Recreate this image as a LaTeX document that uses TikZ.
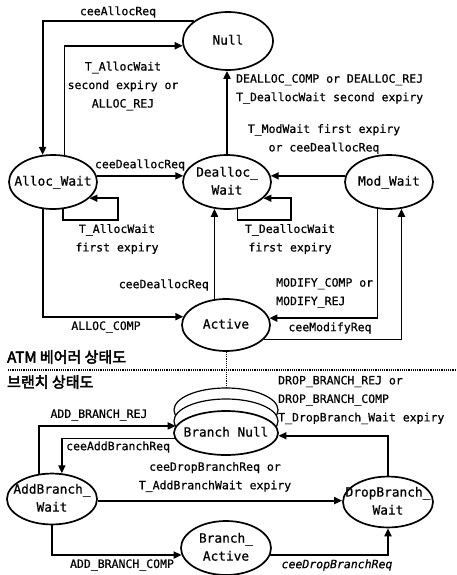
\documentclass[tikz,border=0pt]{standalone}
\usepackage{fontspec}
\setmainfont{DejaVu Sans Mono}[FakeBold=0.6]
\newfontfamily\krfont[FakeBold=3]{Noto Sans CJK KR}
\usetikzlibrary{arrows.meta,shapes.geometric}
\newcommand\ctr[1]{\makebox[0pt]{\begin{tabular}{@{}c@{}}#1\end{tabular}}}
\begin{document}
\begin{tikzpicture}[x=1pt,y=-1pt,
  state/.style={ellipse, draw, line width=1.7pt, inner sep=0pt, fill=white,
    font=\fontsize{12.8}{18}\selectfont},
  lbl/.style={font=\fontsize{11.5}{18.5}\selectfont, inner sep=0pt},
  kr/.style={font=\krfont\fontsize{15}{16}\selectfont, inner sep=0pt, anchor=west},
  arr/.style={line width=1.8pt, -{Triangle[length=8pt,width=7pt]}},
  sep/.style={line width=1.2pt, densely dotted}]
\fill[white] (0,0) rectangle (457,575);
\useasboundingbox (0,0) rectangle (457,575);

% states
\node[state, minimum width=90pt, minimum height=58pt] (null) at (228,41) {\ctr{Null}};
\node[state, minimum width=88pt, minimum height=54pt] (alloc) at (53,182) {\ctr{Alloc\_Wait}};
\node[state, minimum width=88pt, minimum height=54pt] (dealloc) at (227,182) {\ctr{Dealloc\_\\Wait}};
\node[state, minimum width=88pt, minimum height=54pt] (mod) at (389,182) {\ctr{Mod\_Wait}};
\node[state, minimum width=88pt, minimum height=52pt] (active) at (226,325) {\ctr{Active}};
\node[state, line width=1.2pt, minimum width=104pt, minimum height=44pt] (bnullb) at (226,410) {};
\node[state, line width=1.2pt, minimum width=104pt, minimum height=44pt] (bnullm) at (226,421) {};
\node[state, minimum width=104pt, minimum height=44pt] (bnull) at (226,433) {\ctr{Branch Null}};
\node[state, minimum width=90pt, minimum height=48pt] (addb) at (52,499) {\ctr{AddBranch\_\\Wait}};
\node[state, minimum width=90pt, minimum height=50pt] (dropb) at (388,502) {\ctr{DropBranch\_\\Wait}};
\node[state, minimum width=90pt, minimum height=54pt] (bactive) at (226,548) {\ctr{Branch\_\\Active}};

% separator
\draw[sep] (8,370) -- (457,370);
\draw[sep, line width=0.9pt] (active.south) -- (bnullb.north);
\node[kr] (kr1) at (7,357) {ATM 베어러 상태도};
\node[kr] (kr2) at (7,382) {브랜치 상태도};

% ATM bearer connectors
\draw[arr] (null.150) -| (alloc.111);
\node[lbl] (l1) at (118,12) {ceeAllocReq};
\draw[arr] (alloc.67) |- (null.186);
\node[lbl, align=center] (l2) at (123,86) {T\_AllocWait\\second expiry or\\ALLOC\_REJ};
\draw[arr] (dealloc.north) -- (dealloc.north |- null.south);
\node[lbl, align=left, anchor=west] (l3) at (236,89) {DEALLOC\_COMP or DEALLOC\_REJ\\T\_DeallocWait second expiry};
\draw[arr] (mod.172) -- (dealloc.8);
\node[lbl, align=center] (l4) at (324,139) {T\_ModWait first expiry\\or ceeDeallocReq};
\draw[arr] (alloc.8) -- (dealloc.172);
\node[lbl] (l5) at (140,165) {ceeDeallocReq};
\draw[arr] (alloc.-69) |- (118,220) |- (alloc.-24);
\node[lbl, align=center] (l6) at (117,239) {T\_AllocWait\\first expiry};
\draw[arr] (dealloc.-69) |- (291,220) |- (dealloc.-24);
\node[lbl, align=center] (l7) at (290,239) {T\_DeallocWait\\first expiry};
\draw[arr] (active.114) -- (active.114 |- dealloc.245);
\node[lbl, anchor=east] (l8) at (209,285) {ceeDeallocReq};
\draw[arr] (alloc.249) |- (active.169);
\node[lbl] (l9) at (106,327) {ALLOC\_COMP};
\draw[arr] (mod.247) |- (active.9);
\node[lbl, align=left, anchor=west] (l10) at (276,293) {MODIFY\_COMP or\\MODIFY\_REJ};
\draw[arr] (active.-21) -| (mod.-65);
\node[lbl] (l11) at (330,328) {ceeModifyReq};

% branch connectors
\draw[arr] (addb.117) |- (bnull.172);
\node[lbl] (l12) at (99,415) {ADD\_BRANCH\_REJ};
\draw[arr] (bnull.186) -| (addb.69);
\node[lbl, anchor=west] (l13) at (66,447) {ceeAddBranchReq};
\draw[arr] (addb.-2) -- (addb.-2 -| dropb.west);
\node[lbl, align=center] (l14) at (215,477) {ceeDropBranchReq or\\T\_AddBranchWait expiry};
\draw[arr] (dropb.north) |- (bnull.-3);
\node[lbl, align=left, anchor=west] (l15) at (278,400) {DROP\_BRANCH\_REJ or\\DROP\_BRANCH\_COMP\\T\_DropBranch\_Wait expiry};
\draw[arr] (addb.south) |- (bactive.189);
\node[lbl] (l16) at (122,565) {ADD\_BRANCH\_COMP};
\draw[arr] (bactive.-9) -| (dropb.south);
\node[lbl, font=\fontsize{11.5}{18.5}\selectfont\itshape] (l17) at (337,565) {ceeDropBranchReq};
\end{tikzpicture}
\end{document}
